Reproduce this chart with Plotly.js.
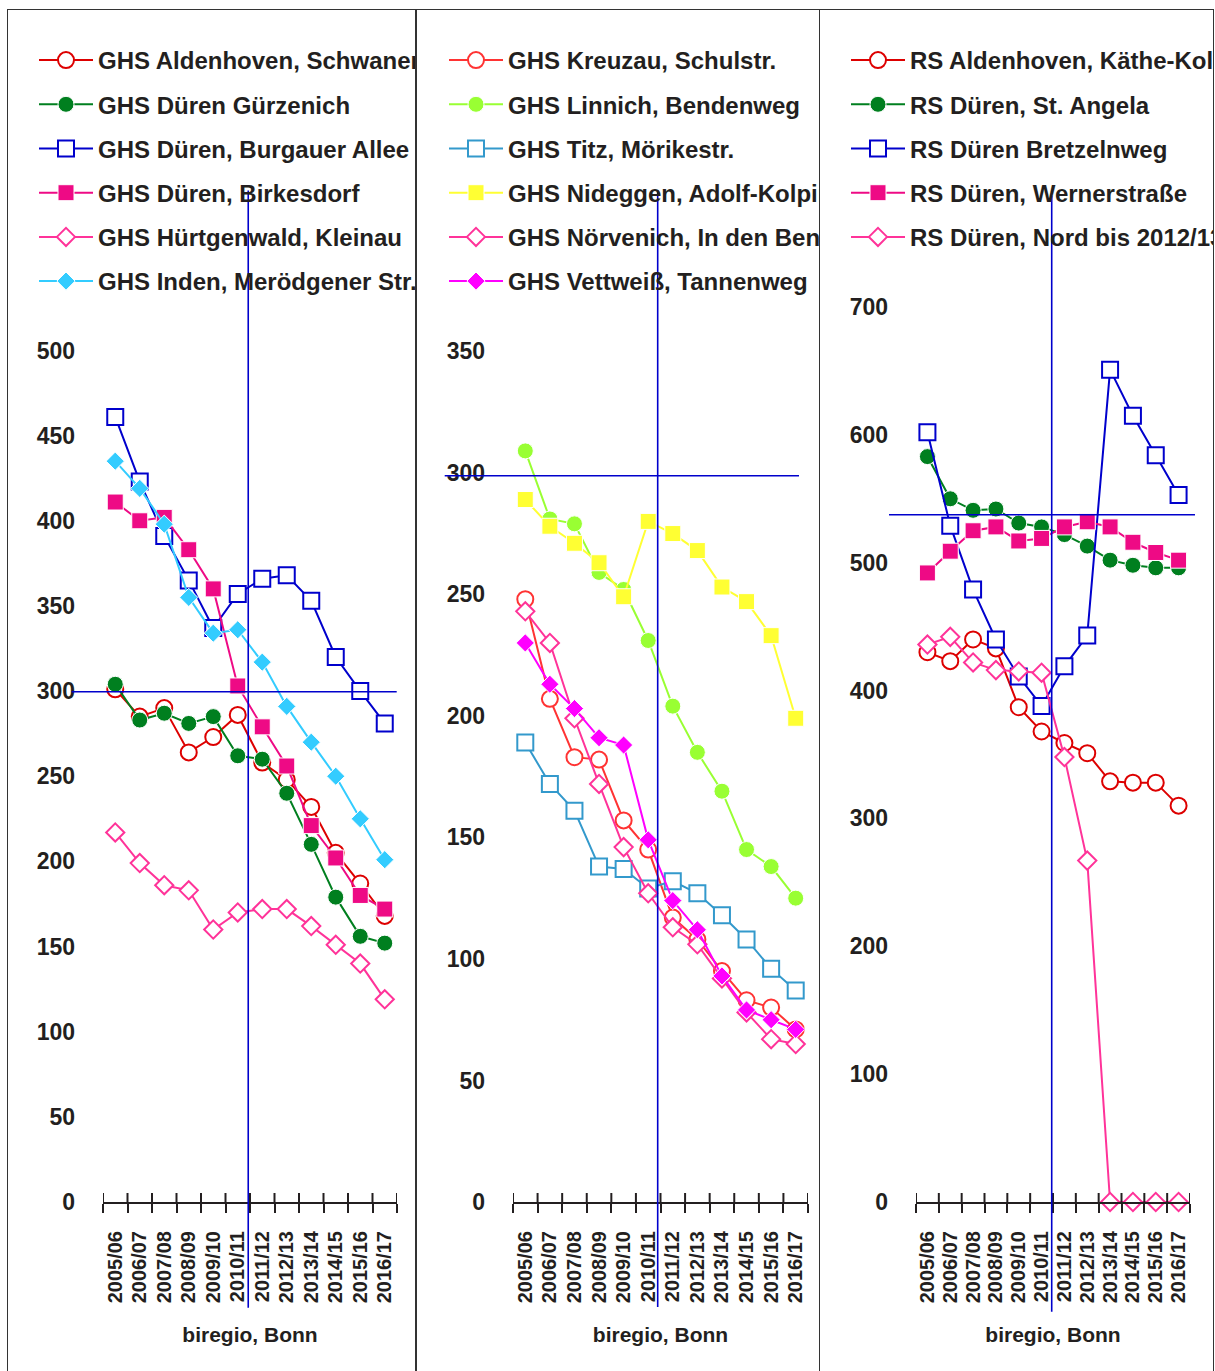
<!DOCTYPE html>
<html><head><meta charset="utf-8">
<script src="https://cdn.plot.ly/plotly-3.0.1.min.js"></script>
<style>
body{margin:0;background:#fff;width:1215px;height:1371px;overflow:hidden;position:relative;}
.plot{position:absolute;top:0;height:1371px;}
.frame{position:absolute;top:9px;height:1400px;border:1.6px solid #333;box-sizing:border-box;pointer-events:none;}
</style>
</head><body>
<div class="frame" style="left:7px;width:409px"></div>
<div class="frame" style="left:416px;width:404px"></div>
<div class="frame" style="left:819px;width:395px"></div>
<div id="p1" class="plot" style="left:8px;width:407px"></div>
<div id="p2" class="plot" style="left:417px;width:402px"></div>
<div id="p3" class="plot" style="left:820px;width:393px"></div>
<script>
const categories = ['2005/06','2006/07','2007/08','2008/09','2009/10','2010/11','2011/12','2012/13','2013/14','2014/15','2015/16','2016/17'];
const axisSource = 'biregio, Bonn';

// Panel 1
const p1Names = ['GHS Aldenhoven, Schwanenstr.','GHS Düren Gürzenich','GHS Düren, Burgauer Allee','GHS Düren, Birkesdorf','GHS Hürtgenwald, Kleinau','GHS Inden, Merödgener Str.'];
const ghsAldenhoven = [301, 285, 290, 264, 273, 286, 258, 248, 232, 205, 187, 168];
const ghsGuerzenich = [304, 283, 287, 281, 285, 262, 260, 240, 210, 179, 156, 152];
const ghsBurgauer = [461, 423, 391, 365, 337, 357, 366, 368, 353, 320, 300, 281];
const ghsBirkesdorf = [411, 400, 402, 383, 360, 303, 279, 256, 221, 202, 180, 172];
const ghsHuertgenwald = [217, 199, 186, 183, 160, 170, 172, 172, 162, 151, 140, 119];
const ghsInden = [435, 419, 398, 355, 334, 336, 317, 291, 270, 250, 225, 201];

// Panel 2
const p2Names = ['GHS Kreuzau, Schulstr.','GHS Linnich, Bendenweg','GHS Titz, Mörikestr.','GHS Nideggen, Adolf-Kolping-Str.','GHS Nörvenich, In den Benden','GHS Vettweiß, Tannenweg'];
const ghsKreuzau = [248, 207, 183, 182, 157, 145, 117, 108, 95, 83, 80, 71];
const ghsLinnich = [309, 281, 279, 259, 252, 231, 204, 185, 169, 145, 138, 125];
const ghsTitz = [189, 172, 161, 138, 137, 129, 132, 127, 118, 108, 96, 87];
const ghsNideggen = [289, 278, 271, 263, 249, 280, 275, 268, 253, 247, 233, 199];
const ghsNoervenich = [243, 230, 199, 172, 146, 127, 113, 106, 92, 78, 67, 65];
const ghsVettweiss = [230, 213, 203, 191, 188, 149, 124, 112, 93, 79, 75, 71];

// Panel 3
const p3Names = ['RS Aldenhoven, Käthe-Kollwitz-Str.','RS Düren, St. Angela','RS Düren Bretzelnweg','RS Düren, Wernerstraße','RS Düren, Nord bis 2012/13'];
const rsAldenhoven = [430, 423, 440, 433, 387, 368, 359, 351, 329, 328, 328, 310];
const rsAngela = [583, 550, 541, 542, 531, 528, 522, 513, 502, 498, 496, 496];
const rsBretzelnweg = [602, 529, 479, 440, 411, 388, 419, 443, 651, 615, 584, 553];
const rsWernerstr = [492, 509, 525, 528, 517, 519, 528, 532, 528, 516, 508, 502];
const rsNord = [436, 442, 422, 416, 415, 414, 348, 267, 0, 0, 0, 0];

const FONT = 'Liberation Sans, Arial, sans-serif';
const INK = '#231f20';

function tr(name, values, color, symbol, open, idx){
  return {
    type:'scatter', mode:'lines+markers', name:name, x:categories, y:values,
    legendgroup:'g'+idx, cliponaxis:false,
    line:{color:color, width:2},
    marker:{symbol:symbol, size: symbol==='diamond'?14:16,
      color: open ? '#ffffff' : color,
      line:{color: open ? color : '#ffffff', width: open ? 2 : 1}}
  };
}

function layoutFor(o){
  const plotH = 1371 - 290 - 169;
  const upTicks = categories.map((c,i)=>i-0.5).concat([categories.length-0.5]).map(b=>(
    {type:'line', xref:'x', yref:'paper', x0:b, x1:b, y0:0, y1:9/plotH, line:{color:INK, width:2}}));
  return {
    width:o.width, height:1371,
    margin:{l:o.ml, r:o.mr, t:290, b:169, autoexpand:false},
    paper_bgcolor:'rgba(0,0,0,0)', plot_bgcolor:'rgba(0,0,0,0)',
    showlegend:true,
    legend:{xref:'container', yref:'container', x:o.lx, y:1-38/1371, xanchor:'left', yanchor:'top',
      font:{family:FONT, size:24, color:INK, weight:700}, traceorder:'grouped', tracegroupgap:10,
      itemwidth:54, bgcolor:'rgba(0,0,0,0)'},
    xaxis:{type:'category', categoryarray:categories, range:[-0.5, categories.length-0.5],
      tickmode:'linear', tick0:0, dtick:1,
      showline:true, linecolor:INK, linewidth:2, ticks:'outside', ticklen:9, tickwidth:2, tickcolor:INK,
      tickson:'boundaries', tickangle:-90, showgrid:false, zeroline:false,
      tickfont:{family:FONT, size:20, color:INK, weight:700}, ticklabelstandoff:19,
      title:{text:axisSource, font:{family:FONT, size:21, color:INK, weight:700}, standoff:25}},
    yaxis:{type:'linear', range:[0,o.ymax], dtick:o.dtick, tick0:0, showline:false, showgrid:false, zeroline:false,
      ticks:'', tickfont:{family:FONT, size:23, color:INK, weight:700}, ticklabelstandoff:27},
    shapes:upTicks.concat([
      {type:'line', xref:'paper', yref:'paper', x0:o.vx, x1:o.vx, y0:o.vy0, y1:o.vy1, line:{color:'#0000cc', width:1.6}},
      {type:'line', xref:'paper', yref:'paper', x0:o.hx0, x1:o.hx1, y0:o.hy, y1:o.hy, line:{color:'#0000cc', width:1.6}}
    ])
  };
}
const cfg = {displayModeBar:false, staticPlot:true};

Plotly.newPlot('p1', [
  tr(p1Names[0], ghsAldenhoven, '#dd0000', 'circle', true, 0),
  tr(p1Names[1], ghsGuerzenich, '#007f1f', 'circle', false, 1),
  tr(p1Names[2], ghsBurgauer, '#0000cc', 'square', true, 2),
  tr(p1Names[3], ghsBirkesdorf, '#ee0a85', 'square', false, 3),
  tr(p1Names[4], ghsHuertgenwald, '#ff3399', 'diamond', true, 4),
  tr(p1Names[5], ghsInden, '#33ccff', 'diamond', false, 5)
], layoutFor({width:407, ml:95, mr:18, lx:26/407, ymax:535.5, dtick:50,
  vx:0.494, vy0:-0.116, vy1:1.109, hx0:-0.1065, hx1:0.999, hy:0.5595}), cfg);

Plotly.newPlot('p2', [
  tr(p2Names[0], ghsKreuzau, '#ff3333', 'circle', true, 0),
  tr(p2Names[1], ghsLinnich, '#99ff33', 'circle', false, 1),
  tr(p2Names[2], ghsTitz, '#3399cc', 'square', true, 2),
  tr(p2Names[3], ghsNideggen, '#ffff33', 'square', false, 3),
  tr(p2Names[4], ghsNoervenich, '#ff3399', 'diamond', true, 4),
  tr(p2Names[5], ghsVettweiss, '#ff00ff', 'diamond', false, 5)
], layoutFor({width:402, ml:96, mr:11, lx:27/402, ymax:375.2, dtick:50,
  vx:0.4905, vy0:-0.115, vy1:1.1096, hx0:-0.2315, hx1:0.9695, hy:0.7964}), cfg);

Plotly.newPlot('p3', [
  tr(p3Names[0], rsAldenhoven, '#dd0000', 'circle', true, 0),
  tr(p3Names[1], rsAngela, '#007f1f', 'circle', false, 1),
  tr(p3Names[2], rsBretzelnweg, '#0000cc', 'square', true, 2),
  tr(p3Names[3], rsWernerstr, '#ee0a85', 'square', false, 3),
  tr(p3Names[4], rsNord, '#ff3399', 'diamond', true, 4)
], layoutFor({width:393, ml:96, mr:23, lx:26/393, ymax:713.3, dtick:100,
  vx:0.4953, vy0:-0.1203, vy1:1.1031, hx0:-0.0985, hx1:1.0182, hy:0.7536}), cfg);
</script>
</body></html>
